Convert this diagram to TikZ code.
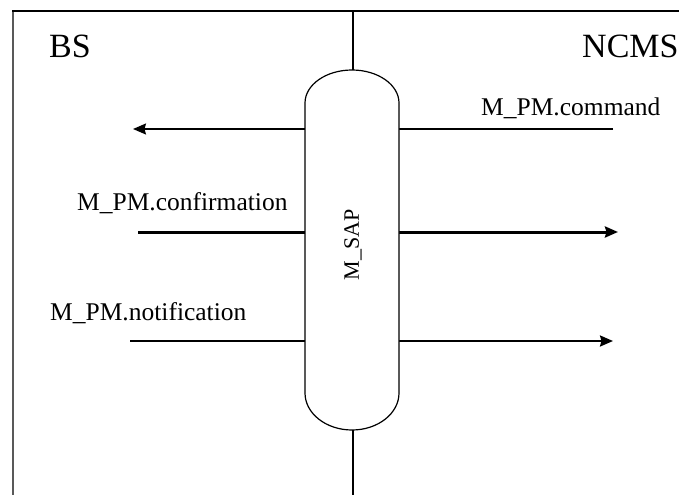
\documentclass[tikz,border=0pt]{standalone}
\usepackage{fontspec}
\setmainfont{Liberation Serif}
\usetikzlibrary{arrows.meta}
\tikzset{
  lbl/.style={anchor=base west, inner sep=0pt, font=\fontsize{25.5}{30}\selectfont},
  big/.style={anchor=base west, inner sep=0pt, font=\fontsize{34}{40}\selectfont},
  sig/.style={line width=1.8pt, -{Stealth[length=13pt,width=11pt,inset=1.5pt]}},
}
\begin{document}
\begin{tikzpicture}[x=1pt,y=1pt]
\useasboundingbox (0,0) rectangle (679,-495);
% frame
\draw[line width=2pt, color=black!65] (13,-11) -- (13,-495);
\draw[line width=1.2pt] (12,-11) -- (679,-11);
% centre line
\coordinate (ctop) at (353,-11);
\coordinate (cbot) at (353,-495);
\draw[line width=1.3pt] (ctop) -- (cbot);
% signals
\coordinate (c1s) at (613,-129);
\coordinate (c1e) at (133,-129);
\coordinate (c2s) at (138,-232);
\coordinate (c2e) at (618,-232);
\coordinate (c3s) at (130,-341);
\coordinate (c3e) at (613,-341);
\draw[sig, line width=1.6pt] (c1s) -- (c1e);
\draw[sig, line width=3pt] (c2s) -- (c2e);
\draw[sig, line width=2.2pt] (c3s) -- (c3e);
% SAP capsule
\draw[line width=1.2pt, fill=white] (305,-103) -- (305,-393)
  arc[start angle=180, end angle=360, x radius=47, y radius=37]
  -- (399,-103)
  arc[start angle=0, end angle=180, x radius=47, y radius=33] -- cycle;
\node[rotate=90, inner sep=0pt, font=\fontsize{22}{26}\selectfont] (sap) at (353,-245) {M\_SAP};
% labels
\node[big] (bs) at (49,-58) {BS};
\node[big] (ncms) at (582,-58) {NCMS};
\node[lbl] (cmd) at (481,-115) {M\_PM.command};
\node[lbl] (conf) at (77,-210) {M\_PM.confirmation};
\node[lbl] (notif) at (50,-320) {M\_PM.notification};
\end{tikzpicture}
\end{document}
